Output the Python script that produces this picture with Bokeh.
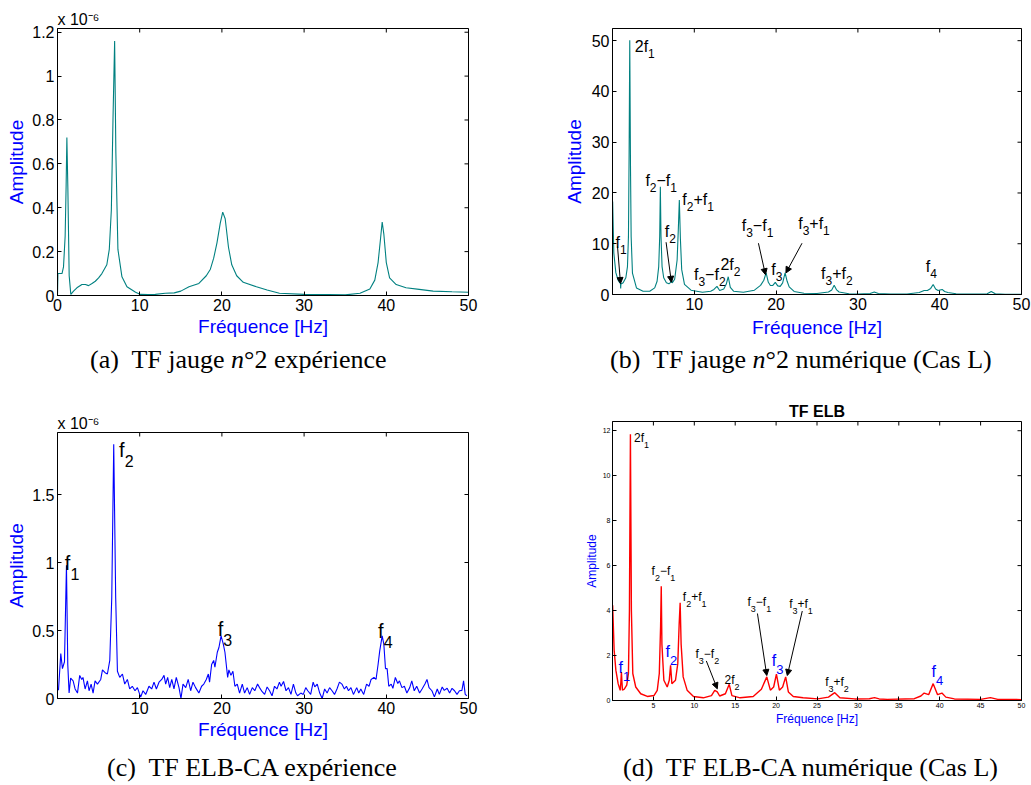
import math
from bokeh.plotting import figure
from bokeh.models import (Range1d, FixedTicker, PrintfTickFormatter,
                          Arrow, NormalHead, Div)
from bokeh.layouts import column, row
from bokeh.embed import file_html
from bokeh.resources import INLINE
from bokeh.core.properties import value

FONT = "Liberation Sans"
SERIF = "Liberation Serif"

# ---------------- data (frequency [Hz], amplitude) ----------------
# (a) gauge n°2, experiment (amplitude x 1e-6)
a_spectrum = [
    (0.0, 0.0), (0.05, 0.10), (0.3, 0.10), (0.55, 0.10), (0.73, 0.13), (0.93, 0.27),
    (1.05, 0.50), (1.14, 0.72), (1.26, 0.49), (1.42, 0.09), (1.62, 0.005), (1.95, 0.02),
    (2.36, 0.035), (2.97, 0.05), (3.4, 0.05), (3.78, 0.045), (4.2, 0.055), (4.6, 0.065),
    (5.0, 0.08), (5.4, 0.10), (6.0, 0.14), (6.3, 0.21), (6.55, 0.39), (6.75, 0.80),
    (6.95, 1.16), (7.1, 0.65), (7.35, 0.21), (7.84, 0.085), (8.45, 0.04), (9.5, 0.015),
    (10.1, 0.005), (11.0, 0.004), (11.9, 0.005), (13.1, 0.01), (14.2, 0.012), (15.0, 0.02),
    (16.0, 0.04), (17.2, 0.055), (18.1, 0.09), (18.6, 0.12), (19.0, 0.17), (19.4, 0.24),
    (19.8, 0.33), (20.1, 0.38), (20.4, 0.35), (20.8, 0.22), (21.2, 0.14), (21.8, 0.09),
    (22.6, 0.06), (24.2, 0.04), (25.5, 0.025), (27.0, 0.01), (30.0, 0.005), (33.0, 0.004),
    (35.0, 0.003), (36.8, 0.01), (38.0, 0.03), (38.6, 0.07), (39.0, 0.15), (39.3, 0.26),
    (39.5, 0.335), (39.7, 0.28), (40.0, 0.15), (40.4, 0.08), (41.2, 0.05), (42.4, 0.035),
    (44.0, 0.028), (45.7, 0.02), (48.0, 0.017), (50.0, 0.015),
]

# (b) gauge n°2, numerical (case L)
b_spectrum = [
    (0.02, 18.3), (0.16, 8.2), (0.41, 4.3), (0.69, 2.8), (0.9, 2.3), (0.97, 2.2),
    (1.0, 1.2), (1.03, 2.2), (1.1, 2.1), (1.3, 2.3), (1.63, 3.3), (1.83, 5.5),
    (1.95, 11.4), (2.03, 27.7), (2.11, 50.1), (2.2, 25.0), (2.28, 11.4), (2.44, 4.2),
    (2.93, 1.3), (3.74, 0.65), (4.55, 0.65), (5.16, 1.3), (5.45, 2.6), (5.65, 5.5),
    (5.77, 11.4), (5.85, 21.2), (5.93, 11.4), (6.06, 5.5), (6.26, 3.3), (6.59, 2.3),
    (6.9, 2.1), (7.1, 2.4), (7.2, 3.0), (7.3, 2.3), (7.6, 3.0), (7.9, 6.8),
    (8.05, 13.0), (8.17, 18.6), (8.3, 11.0), (8.46, 4.9), (8.8, 2.0), (9.6, 0.85),
    (11.0, 0.45), (12.0, 0.65), (12.4, 1.0), (12.77, 1.6), (13.1, 0.8), (13.6, 1.1),
    (13.9, 2.0), (14.15, 3.5), (14.4, 1.4), (14.8, 0.65), (16.0, 0.45), (17.35, 0.85),
    (18.1, 1.8), (18.5, 2.8), (18.78, 4.25), (19.05, 2.4), (19.3, 1.76), (19.6, 1.8),
    (19.9, 2.4), (20.2, 1.7), (20.5, 1.6), (20.8, 2.3), (21.1, 4.25), (21.35, 2.6),
    (21.6, 1.5), (22.2, 0.6), (23.4, 0.25), (25.0, 0.2), (26.4, 0.5), (26.8, 0.9),
    (27.1, 1.8), (27.4, 0.9), (27.7, 0.5), (28.9, 0.15), (30.0, 0.1), (31.5, 0.2),
    (32.0, 0.5), (32.5, 0.2), (34.0, 0.08), (36.0, 0.1), (37.5, 0.4), (38.1, 0.8),
    (38.5, 0.8), (38.9, 1.2), (39.2, 1.96), (39.5, 1.1), (39.8, 0.8), (40.3, 1.0),
    (40.6, 0.6), (41.0, 0.4), (42.0, 0.15), (44.0, 0.08), (45.8, 0.15), (46.3, 0.6),
    (46.8, 0.15), (48.0, 0.06), (50.0, 0.05),
]

# (c) ELB-CA, experiment (amplitude x 1e-6)
c_spectrum = [
    (0.12, 0.06), (0.4, 0.33), (0.6, 0.22), (0.85, 0.27), (1.09, 0.98), (1.25, 0.25),
    (1.41, 0.04), (1.6, 0.15), (1.9, 0.13), (2.14, 0.07), (2.43, 0.04), (2.7, 0.17),
    (2.95, 0.14), (3.1, 0.155), (3.36, 0.07), (3.64, 0.13), (3.84, 0.057), (4.09, 0.106),
    (4.33, 0.04), (4.57, 0.13), (4.86, 0.106), (5.26, 0.14), (5.47, 0.21), (5.79, 0.19),
    (6.07, 0.18), (6.36, 0.28), (6.6, 0.74), (6.84, 1.87), (7.08, 0.74), (7.29, 0.2),
    (7.57, 0.155), (7.9, 0.18), (8.18, 0.106), (8.5, 0.14), (8.78, 0.07), (9.1, 0.09),
    (9.43, 0.057), (9.72, 0.08), (10.12, 0.01), (10.4, 0.057), (10.73, 0.03), (11.13, 0.09),
    (11.46, 0.07), (11.74, 0.12), (12.03, 0.07), (12.35, 0.12), (12.68, 0.14), (12.96, 0.17),
    (13.16, 0.106), (13.4, 0.155), (13.65, 0.08), (13.9, 0.14), (14.17, 0.07), (14.45, 0.155),
    (14.78, 0.08), (15.02, 0.0), (15.27, 0.106), (15.6, 0.08), (15.9, 0.14), (16.2, 0.057),
    (16.48, 0.12), (16.8, 0.08), (17.2, 0.04), (17.53, 0.09), (17.8, 0.106), (18.1, 0.14),
    (18.35, 0.18), (18.5, 0.12), (18.75, 0.25), (19.0, 0.28), (19.15, 0.23), (19.44, 0.34),
    (19.64, 0.375), (19.9, 0.46), (20.17, 0.4), (20.37, 0.34), (20.53, 0.25), (20.7, 0.155),
    (20.85, 0.21), (21.1, 0.17), (21.34, 0.2), (21.58, 0.09), (21.87, 0.106), (22.15, 0.04),
    (22.48, 0.106), (22.76, 0.04), (23.08, 0.08), (23.37, 0.03), (23.7, 0.08), (24.0, 0.057),
    (24.34, 0.106), (24.58, 0.08), (24.9, 0.05), (25.2, 0.03), (25.5, 0.085), (25.8, 0.057),
    (26.1, 0.02), (26.4, 0.09), (26.7, 0.07), (27.0, 0.12), (27.2, 0.09), (27.5, 0.125),
    (27.8, 0.057), (28.1, 0.08), (28.4, 0.03), (28.7, 0.106), (29.0, 0.04), (29.2, 0.02),
    (29.6, 0.04), (29.9, 0.03), (30.2, 0.08), (30.45, 0.057), (30.8, 0.03), (31.1, 0.12),
    (31.3, 0.085), (31.6, 0.106), (31.9, 0.04), (32.2, 0.0), (32.5, 0.07), (32.8, 0.04),
    (33.1, 0.08), (33.4, 0.057), (33.7, 0.03), (34.0, 0.07), (34.3, 0.12), (34.6, 0.106),
    (34.9, 0.07), (35.15, 0.09), (35.4, 0.057), (35.7, 0.08), (36.0, 0.03), (36.4, 0.08),
    (36.65, 0.04), (36.9, 0.07), (37.25, 0.03), (37.6, 0.106), (37.9, 0.09), (38.15, 0.14),
    (38.5, 0.155), (38.75, 0.14), (39.0, 0.25), (39.2, 0.35), (39.5, 0.46), (39.7, 0.4),
    (39.9, 0.22), (40.1, 0.22), (40.3, 0.09), (40.6, 0.106), (40.8, 0.075), (41.1, 0.155),
    (41.4, 0.11), (41.6, 0.13), (41.9, 0.08), (42.2, 0.09), (42.5, 0.04), (42.85, 0.08),
    (43.1, 0.13), (43.4, 0.057), (43.7, 0.09), (44.05, 0.04), (44.35, 0.07), (44.7, 0.106),
    (44.95, 0.14), (45.2, 0.08), (45.55, 0.057), (45.85, 0.012), (46.2, 0.07), (46.45, 0.03),
    (46.8, 0.085), (47.05, 0.06), (47.4, 0.075), (47.7, 0.04), (48.0, 0.075), (48.3, 0.057),
    (48.6, 0.03), (48.9, 0.057), (49.2, 0.06), (49.4, 0.13), (49.6, 0.03), (49.8, 0.02),
]

# (d) ELB-CA, numerical (case L)
d_spectrum = [
    (0.02, 4.24), (0.2, 2.24), (0.41, 1.35), (0.69, 0.75), (0.94, 0.45), (1.02, 0.8),
    (1.09, 1.27), (1.16, 0.8), (1.22, 0.46), (1.42, 0.5), (1.74, 0.68), (1.95, 1.2),
    (2.07, 4.0), (2.19, 11.84), (2.31, 4.0), (2.48, 1.2), (2.84, 0.6), (3.45, 0.3),
    (4.26, 0.18), (5.07, 0.22), (5.47, 0.45), (5.72, 1.2), (5.88, 3.3), (5.96, 5.08),
    (6.04, 2.5), (6.28, 0.9), (6.69, 0.6), (6.94, 0.9), (7.1, 1.57), (7.26, 0.75),
    (7.7, 0.9), (7.98, 1.64), (8.15, 3.4), (8.27, 4.35), (8.39, 2.5), (8.64, 1.05),
    (9.12, 0.46), (9.9, 0.18), (11.1, 0.12), (12.1, 0.22), (12.5, 0.45), (12.81, 0.38),
    (13.1, 0.2), (13.8, 0.3), (14.27, 0.72), (14.6, 0.22), (15.6, 0.12), (17.2, 0.18),
    (18.2, 0.5), (18.86, 1.05), (19.3, 0.46), (19.7, 0.6), (20.04, 1.17), (20.4, 0.46),
    (20.8, 0.6), (21.17, 1.05), (21.5, 0.38), (22.1, 0.18), (23.3, 0.12), (25.1, 0.07),
    (26.4, 0.15), (27.17, 0.35), (27.8, 0.12), (29.6, 0.07), (31.4, 0.08), (32.03, 0.13),
    (32.6, 0.07), (33.6, 0.05), (36.9, 0.08), (37.7, 0.2), (38.1, 0.33), (38.65, 0.26),
    (39.2, 0.75), (39.74, 0.26), (40.27, 0.33), (40.75, 0.15), (41.8, 0.07), (45.0, 0.05),
    (46.2, 0.13), (47.1, 0.05), (50.0, 0.04),
]

# tick values
a_xticks = [0, 10, 20, 30, 40, 50]
a_yticks = [0, 0.2, 0.4, 0.6, 0.8, 1.0, 1.2]
b_xticks = [10, 20, 30, 40, 50]
b_yticks = [0, 10, 20, 30, 40, 50]
c_xticks = [10, 20, 30, 40, 50]
c_yticks = [0, 0.5, 1.0, 1.5]
d_xticks = [5, 10, 15, 20, 25, 30, 35, 40, 45, 50]
d_yticks = [0, 2, 4, 6, 8, 10, 12]

# peak annotations: (label, x, y) ; "_" marks a subscript character
b_labels = [("2f_1", 2.72, 48.9), ("f_2−f_1", 4.02, 22.5), ("f_2+f_1", 8.54, 18.8),
            ("f_1", 0.37, 10.3), ("f_2", 6.38, 12.5), ("f_3−f_2", 9.96, 3.86),
            ("2f_2", 13.2, 6.0), ("f_3−f_1", 15.8, 13.6), ("f_3", 19.4, 5.0),
            ("f_3+f_1", 22.7, 13.9), ("f_3+f_2", 25.5, 4.05), ("f_4", 38.3, 5.55)]
b_arrows = [(0.61, 9.5, 0.98, 2.16), (6.55, 10.3, 7.2, 2.4),
            (17.84, 10.1, 18.7, 3.9), (23.17, 10.1, 21.2, 4.25)]
c_labels = [("f_1", 0.89, 1.0), ("f_2", 7.49, 1.83), ("f_3", 19.5, 0.51), ("f_4", 39.0, 0.50)]
d_labels_black = [("2f_1", 2.64, 11.67), ("f_2−f_1", 4.78, 5.76), ("f_2+f_1", 8.6, 4.6),
                  ("f_3−f_2", 10.14, 2.06), ("2f_2", 13.7, 0.93), ("f_3−f_1", 16.5, 4.38),
                  ("f_3+f_1", 21.6, 4.31), ("f_3+f_2", 26.0, 0.83)]
d_labels_blue = [("f_1", 0.73, 1.49), ("f_2", 6.49, 2.16), ("f_3", 19.46, 1.79), ("f_4", 39.0, 1.27)]
d_arrows = [(11.47, 1.76, 12.81, 0.52), (17.72, 3.87, 18.86, 1.11), (23.2, 3.98, 21.37, 1.11)]

scale_note = "x 10⁻⁶"
captions = [
    "(a)&nbsp; TF jauge <i>n</i>°2 expérience",
    "(b)&nbsp; TF jauge <i>n</i>°2 numérique (Cas L)",
    "(c)&nbsp; TF ELB-CA expérience",
    "(d)&nbsp; TF ELB-CA numérique (Cas L)",
]

# ---------------- helpers ----------------
CW = {'f': 0.278, '1': 0.556, '2': 0.556, '3': 0.556, '4': 0.556, '+': 0.584, '−': 0.584}


def segments(label):
    segs, cur, i = [], "", 0
    while i < len(label):
        if label[i] == "_":
            if cur:
                segs.append((cur, False))
                cur = ""
            segs.append((label[i + 1], True))
            i += 2
        else:
            cur += label[i]
            i += 1
    if cur:
        segs.append((cur, False))
    return segs


def add_label(p, text, x, y, main_px, sub_px, drop, color):
    off = 0.0
    for s, sub in segments(text):
        size = sub_px if sub else main_px
        p.text(x=[x], y=[y], text=[s], x_offset=off, y_offset=drop if sub else 0,
               text_font=value(FONT), text_font_size=f"{size}px", text_color=color,
               text_baseline="alphabetic", text_align="left")
        off += sum(CW.get(ch, 0.556) for ch in s) * size


def make_fig(width, height, yend, borders, xticks, yticks, tick_px, lab_px,
             lab_standoff=2, tick_standoff=3):
    l, r, t, b = borders
    p = figure(width=width, height=height, x_range=Range1d(0, 50), y_range=Range1d(0, yend),
               output_backend="svg", toolbar_location=None,
               min_border_left=l, min_border_right=r, min_border_top=t, min_border_bottom=b)
    p.xgrid.visible = False
    p.ygrid.visible = False
    p.outline_line_color = "black"
    p.outline_line_width = 1
    p.xaxis.axis_label = "Fréquence [Hz]"
    p.yaxis.axis_label = "Amplitude"
    p.xaxis.ticker = FixedTicker(ticks=xticks)
    p.yaxis.ticker = FixedTicker(ticks=yticks)
    for ax in [p.xaxis[0], p.yaxis[0]]:
        ax.major_tick_in = 4
        ax.major_tick_out = 0
        ax.minor_tick_line_color = None
        ax.axis_line_color = "black"
        ax.major_tick_line_color = "black"
        ax.major_label_text_font = FONT
        ax.major_label_text_font_size = f"{tick_px}px"
        ax.major_label_text_color = "black"
        ax.major_label_standoff = tick_standoff
        ax.axis_label_text_font = FONT
        ax.axis_label_text_font_size = f"{lab_px}px"
        ax.axis_label_text_font_style = "normal"
        ax.axis_label_text_color = "#0000ff"
        ax.axis_label_standoff = lab_standoff
        ax.formatter = PrintfTickFormatter(format="%g")
    # mirrored inward ticks on the top and right edges of the box
    p.scatter(x=xticks, y=[yend] * len(xticks), marker="dash", angle=math.pi / 2,
              size=8, line_color="black", line_width=1)
    p.scatter(x=[50] * len(yticks), y=yticks, marker="dash", angle=0,
              size=8, line_color="black", line_width=1)
    return p


def set_title(p, text, size, style, align, standoff):
    p.title.text = text
    p.title.align = align
    p.title.text_font = FONT
    p.title.text_font_size = f"{size}px"
    p.title.text_font_style = style
    p.title.text_color = "black"
    p.title.standoff = standoff


def add_arrows(p, arrows):
    for x0, y0, x1, y1 in arrows:
        p.add_layout(Arrow(end=NormalHead(size=6, fill_color="black", line_color="black", line_width=1),
                           x_start=x0, y_start=y0, x_end=x1, y_end=y1,
                           line_color="black", line_width=1))


def caption(text, width, height, pad_left, pad_top, font_px, line_px):
    html = (f'<div style="font-family:\'{SERIF}\';font-size:{font_px}px;line-height:{line_px}px;'
            f'color:black;padding-left:{pad_left}px;padding-top:{pad_top}px;white-space:nowrap;">'
            f'{text}</div>')
    return Div(text=html, width=width, height=height, margin=0)


TEAL = "#008080"

# ---------------- (a) ----------------
pa = make_fig(560, 340, 1.217, (57, 92, 28, 45), a_xticks, a_yticks, 16, 19)
set_title(pa, scale_note, 16, "normal", "left", 1)
pa.line([f for f, a in a_spectrum], [a for f, a in a_spectrum], line_color=TEAL, line_width=1.1)

# ---------------- (b) ----------------
pb = make_fig(471, 340, 52.4, (51, 10, 28, 45), b_xticks, b_yticks, 16, 19, lab_standoff=4)
pb.line([f for f, a in b_spectrum], [a for f, a in b_spectrum], line_color=TEAL, line_width=1.1)
for txt, x, y in b_labels:
    add_label(pb, txt, x, y, 16, 12, 7, "black")
add_arrows(pb, b_arrows)

# ---------------- (c) ----------------
pc = make_fig(560, 360, 1.956, (57, 92, 47, 47), c_xticks, c_yticks, 16, 19)
set_title(pc, scale_note, 16, "normal", "left", 1)
pc.line([f for f, a in c_spectrum], [a for f, a in c_spectrum], line_color="#0000ff", line_width=1.1)
for txt, x, y in c_labels:
    add_label(pc, txt, x, y, 20, 16, 11, "black")

# ---------------- (d) ----------------
pd_ = make_fig(471, 360, 12.41, (51, 10, 36, 45), d_xticks, d_yticks, 7, 12,
               lab_standoff=1, tick_standoff=2)
set_title(pd_, "TF ELB", 16, "bold", "center", 4)
pd_.line([f for f, a in d_spectrum], [a for f, a in d_spectrum], line_color="#ff0000", line_width=1.4)
for txt, x, y in d_labels_black:
    add_label(pd_, txt, x, y, 12, 9, 7, "black")
for txt, x, y in d_labels_blue:
    add_label(pd_, txt, x, y, 16, 13, 9, "#0000ff")
add_arrows(pd_, d_arrows)

# ---------------- captions & layout ----------------
cap_a = caption(captions[0], 560, 45, 90, 6, 26, 28)
cap_b = caption(captions[1], 471, 45, 50, 6, 26, 28)
cap_c = caption(captions[2], 560, 40, 107, 9, 26, 28)
cap_d = caption(captions[3], 471, 40, 63, 9, 26, 28)

# two independent columns so that each panel keeps its own frame position
layout = row(column(pa, cap_a, pc, cap_c), column(pb, cap_b, pd_, cap_d))

with open("out.html", "w") as fh:
    fh.write(file_html(layout, INLINE, title="TF spectra"))
